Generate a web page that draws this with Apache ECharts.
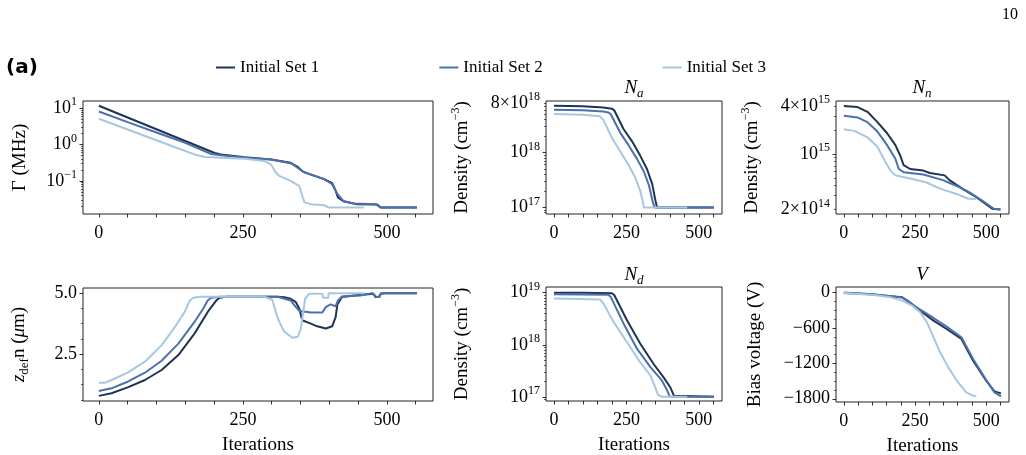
<!DOCTYPE html>
<html>
<head>
<meta charset="utf-8">
<script src="https://cdn.jsdelivr.net/npm/echarts@6/dist/echarts.min.js"></script>
<style>
  html, body { margin: 0; padding: 0; background: #fff; }
  #chart { width: 1026px; height: 455px; }
</style>
</head>
<body>
<div id="chart"></div>
<script>
const SERIF = 'Liberation Serif';

const seriesNames = ['Initial Set 1', 'Initial Set 2', 'Initial Set 3'];
const seriesColors = ['#1f3450', '#4a70ad', '#a7c7e0'];

const iterationTicks = [0, 50, 100, 150, 200, 250, 300, 350, 400, 450, 500, 550];
const iterationLabels = [0, 250, 500];

// Gamma (MHz), [iteration, value]
const gammaSet1 = [[0, 11.7], [50, 5.58], [100, 2.65], [150, 1.26], [201, 0.589], [212, 0.537], [253, 0.452], [299, 0.389], [333, 0.316], [345, 0.245], [353, 0.186], [362, 0.162], [391, 0.112], [405, 0.087], [411, 0.054], [415, 0.035], [425, 0.0275], [448, 0.0229], [483, 0.0226], [489, 0.0186], [552, 0.0186]];
const gammaSet2 = [[0, 8.13], [50, 4.17], [100, 2.16], [150, 1.12], [195, 0.55], [212, 0.51], [253, 0.437], [299, 0.389], [335, 0.30], [355, 0.176], [391, 0.112], [405, 0.081], [414, 0.044], [425, 0.0275], [442, 0.024], [480, 0.0229], [489, 0.0186], [552, 0.0186]];
const gammaSet3 = [[0, 5.13], [50, 2.6], [100, 1.32], [150, 0.668], [166, 0.537], [184, 0.457], [253, 0.407], [287, 0.355], [299, 0.282], [307, 0.17], [313, 0.138], [333, 0.1], [348, 0.0724], [353, 0.039], [357, 0.0257], [368, 0.0229], [391, 0.0214], [399, 0.0186], [460, 0.0186]];

// N_a (cm^-3)
const naSet1 = [[0, 7.16e18], [100, 7.0e18], [170, 6.61e18], [200, 6.31e18], [208, 5.89e18], [240, 2.69e18], [269, 1.62e18], [298, 8.71e17], [321, 5.01e17], [339, 2.69e17], [350, 1.35e17], [356, 1e17], [552, 1e17]];
const naSet2 = [[0, 6.03e18], [100, 5.89e18], [170, 5.62e18], [188, 5.37e18], [196, 5.01e18], [229, 2.29e18], [258, 1.35e18], [287, 7.59e17], [310, 4.57e17], [328, 2.51e17], [340, 1.32e17], [347, 1e17], [552, 1e17]];
const naSet3 = [[0, 5.07e18], [100, 4.9e18], [159, 4.57e18], [170, 3.98e18], [200, 1.86e18], [229, 1.05e18], [258, 5.89e17], [280, 3.55e17], [298, 2.0e17], [306, 1.32e17], [310, 1e17], [460, 1e17]];

// N_n (cm^-3)
const nnSet1 = [[0, 4.0e15], [48, 3.89e15], [83, 3.39e15], [118, 2.51e15], [152, 1.82e15], [181, 1.29e15], [198, 9.55e14], [210, 7.24e14], [233, 6.46e14], [279, 6.17e14], [302, 5.75e14], [354, 5.37e14], [371, 4.68e14], [417, 3.63e14], [464, 2.88e14], [498, 2.34e14], [521, 2.04e14], [550, 2.0e14]];
const nnSet2 = [[0, 3.02e15], [48, 2.88e15], [83, 2.51e15], [118, 1.91e15], [152, 1.29e15], [181, 8.71e14], [193, 6.46e14], [210, 5.89e14], [279, 5.5e14], [348, 4.68e14], [394, 3.98e14], [440, 3.31e14], [487, 2.57e14], [527, 2.04e14], [550, 2.0e14]];
const nnSet3 = [[0, 2.04e15], [37, 1.95e15], [83, 1.62e15], [118, 1.23e15], [146, 7.94e14], [164, 6.17e14], [181, 5.37e14], [233, 4.9e14], [291, 4.37e14], [314, 3.98e14], [348, 3.55e14], [394, 3.16e14], [435, 2.75e14], [464, 2.69e14]];

// z_defn (um)
const zSet1 = [[0, 0.79], [22, 0.90], [50, 1.14], [80, 1.44], [109, 1.85], [138, 2.46], [166, 3.34], [189, 4.23], [204, 4.70], [209, 4.81], [222, 4.85], [310, 4.85], [322, 4.83], [333, 4.77], [342, 4.63], [348, 4.36], [353, 3.89], [368, 3.75], [379, 3.64], [394, 3.55], [405, 3.64], [411, 4.02], [414, 4.54], [422, 4.84], [442, 4.9], [477, 4.97], [480, 4.84], [486, 4.84], [489, 4.97], [500, 5.0], [552, 5.0]];
const zSet2 = [[0, 0.99], [22, 1.10], [50, 1.37], [80, 1.74], [109, 2.23], [138, 2.93], [166, 3.82], [181, 4.36], [189, 4.70], [195, 4.81], [210, 4.85], [310, 4.85], [333, 4.7], [342, 4.43], [348, 4.27], [368, 4.21], [388, 4.21], [394, 4.43], [402, 4.54], [411, 4.46], [415, 4.7], [422, 4.86], [454, 4.9], [474, 5.0], [482, 4.84], [487, 4.84], [490, 5.0], [552, 5.0]];
const zSet3 = [[0, 1.33], [11, 1.33], [22, 1.44], [50, 1.74], [80, 2.19], [109, 2.87], [132, 3.61], [149, 4.23], [158, 4.70], [164, 4.81], [175, 4.85], [287, 4.85], [301, 4.73], [308, 4.16], [314, 3.78], [322, 3.41], [336, 3.17], [345, 3.21], [350, 3.48], [354, 4.09], [358, 4.77], [365, 4.97], [388, 4.97], [389, 4.81], [398, 4.81], [399, 5.0], [460, 5.0]];

// N_d (cm^-3)
const ndSet1 = [[0, 1e19], [100, 1e19], [200, 9.77e18], [208, 9.02e18], [252, 2.95e18], [298, 1.05e18], [344, 4.27e17], [379, 2.34e17], [402, 1.51e17], [414, 1.05e17], [420, 1e17], [552, 1e17]];
const ndSet2 = [[0, 9.33e18], [188, 9.12e18], [196, 8.32e18], [240, 2.57e18], [287, 8.32e17], [333, 3.72e17], [373, 2.04e17], [391, 1.32e17], [400, 1e17], [552, 1e17]];
const ndSet3 = [[0, 7.76e18], [159, 7.41e18], [170, 6.31e18], [206, 2.75e18], [252, 1.12e18], [298, 4.57e17], [333, 2.57e17], [350, 1.51e17], [358, 1.12e17], [373, 1e17], [460, 1e17]];

// V (bias voltage)
const vSet1 = [[0, -5], [106, -34], [164, -62], [205, -79], [222, -136], [251, -238], [280, -351], [315, -475], [361, -617], [413, -787], [454, -1155], [500, -1494], [529, -1675], [552, -1709]];
const vSet2 = [[0, 0], [106, -30], [164, -60], [205, -85], [222, -130], [251, -238], [274, -306], [315, -430], [361, -577], [413, -758], [454, -1126], [500, -1483], [529, -1692], [552, -1760]];
const vSet3 = [[0, -5], [106, -40], [164, -79], [205, -136], [240, -221], [268, -334], [292, -504], [315, -758], [338, -1013], [367, -1268], [401, -1523], [430, -1692], [454, -1749], [465, -1755]];

// tick labels
const gammaLabels = [0.1, 1, 10];
const naLabels = [1e17, 1e18, 8e18];
const nnLabels = [2e14, 1e15, 4e15];
const ndLabels = [1e17, 1e18, 1e19];
const zLabels = [2.5, 5.0];
const zMinorTicks = [0.625, 1.25, 1.875, 3.125, 3.75, 4.375];
const vLabels = [0, -600, -1200, -1800];
const vMinorTicks = [-1650, -1500, -1350, -1050, -900, -750, -450, -300, -150];

const BLACK = '#000';

// log axis helpers
const decades = (lo, hi) => {
  const out = [];
  for (let e = Math.ceil(lo); e <= Math.floor(hi); e++) out.push(Math.pow(10, e));
  return out;
};
const logMinor = (lo, hi) => {
  const out = [];
  for (let e = Math.floor(lo); e <= Math.ceil(hi); e++) {
    for (let m = 2; m <= 9; m++) {
      const v = m * Math.pow(10, e);
      if (Math.log10(v) > lo && Math.log10(v) < hi) out.push(v);
    }
  }
  return out;
};
const sciLabel = (v) => {
  const e = Math.floor(Math.log10(v) + 1e-9);
  const m = Math.round(v / Math.pow(10, e));
  const exp = e < 0 ? '\u2212' + (-e) : String(e);
  return (m === 1 ? '{b|10}' : '{b|' + m + '\u00d710}') + '{s|' + exp + '}';
};

const supRich = {
  b: { fontFamily: SERIF, fontSize: 18, color: BLACK, lineHeight: 24 },
  s: { fontFamily: SERIF, fontSize: 12, color: BLACK, lineHeight: 12, verticalAlign: 'top' },
  i: { fontFamily: SERIF, fontSize: 19, fontStyle: 'italic', color: BLACK, lineHeight: 24 },
  sub: { fontFamily: SERIF, fontSize: 13, color: BLACK, lineHeight: 12, verticalAlign: 'bottom' },
  isub: { fontFamily: SERIF, fontSize: 13, fontStyle: 'italic', color: BLACK, lineHeight: 12, verticalAlign: 'bottom' }
};

const densityName = 'Density (cm{s|\u22123})';

const panels = [
  { left: 83, top: 101, width: 350, height: 113, type: 'log', lo: -1.91, hi: 1.2,
    labels: gammaLabels, name: '\u0393 (MHz)', nameGap: 51, data: [gammaSet1, gammaSet2, gammaSet3], bottom: false },
  { left: 546, top: 101, width: 176, height: 113, type: 'log', lo: 16.88, hi: 18.94,
    labels: naLabels, name: densityName, nameGap: 72, data: [naSet1, naSet2, naSet3], bottom: false },
  { left: 836, top: 101, width: 173, height: 113, type: 'log', lo: 14.244, hi: 15.666,
    labels: nnLabels, name: densityName, nameGap: 72, data: [nnSet1, nnSet2, nnSet3], bottom: false },
  { left: 83, top: 288, width: 350, height: 113, type: 'value', min: 0.58, max: 5.21,
    labels: zLabels, major: zLabels, minor: zMinorTicks, name: '{i|z}{sub|def}n ({i|\u03bc}m)', nameGap: 52,
    fmt: (v) => v.toFixed(1), data: [zSet1, zSet2, zSet3], bottom: true },
  { left: 546, top: 287, width: 176, height: 114, type: 'log', lo: 16.92, hi: 19.11,
    labels: ndLabels, name: densityName, nameGap: 72, data: [ndSet1, ndSet2, ndSet3], bottom: true },
  { left: 836, top: 287, width: 173, height: 115, type: 'value', min: -1855, max: 95,
    labels: vLabels, major: vLabels, minor: vMinorTicks, name: 'Bias voltage (V)', nameGap: 69,
    fmt: (v) => (v < 0 ? '\u2212' + Math.abs(v) : String(v)), data: [vSet1, vSet2, vSet3], bottom: true }
];

const grids = [];
const xAxes = [];
const yAxes = [];
const series = [];

panels.forEach((p, i) => {
  grids.push({
    left: p.left, top: p.top, width: p.width, height: p.height,
    show: true, borderColor: '#222', borderWidth: 1, backgroundColor: 'transparent',
    outerBoundsMode: 'none', containLabel: false
  });
  xAxes.push({
    type: 'value', gridIndex: i, min: -27.5, max: 580, position: 'bottom',
    axisLine: { show: false, onZero: false }, splitLine: { show: false },
    axisTick: { show: true, customValues: iterationTicks, length: 3.5, lineStyle: { color: BLACK, width: 0.8 } },
    axisLabel: { customValues: iterationLabels, margin: 10, color: BLACK, fontFamily: SERIF, fontSize: 18 },
    name: p.bottom ? 'Iterations' : '', nameLocation: 'middle', nameGap: 35,
    nameTextStyle: { color: BLACK, fontFamily: SERIF, fontSize: 19 }
  });
  const isLog = p.type === 'log';
  const min = isLog ? Math.pow(10, p.lo) : p.min;
  const max = isLog ? Math.pow(10, p.hi) : p.max;
  const major = isLog ? decades(p.lo, p.hi) : p.major;
  const minor = isLog ? logMinor(p.lo, p.hi) : p.minor;
  const mainIndex = yAxes.length;
  yAxes.push({
    type: p.type, gridIndex: i, min: min, max: max, position: 'left',
    axisLine: { show: false, onZero: false }, splitLine: { show: false }, minorTick: { show: false },
    axisTick: { show: true, customValues: major, length: 3.5, lineStyle: { color: BLACK, width: 0.8 } },
    axisLabel: {
      customValues: p.labels, margin: 6, color: BLACK, fontFamily: SERIF, fontSize: 18,
      formatter: isLog ? sciLabel : p.fmt, rich: supRich
    },
    name: p.name, nameLocation: 'middle', nameGap: p.nameGap, nameRotate: 90,
    nameTextStyle: { color: BLACK, fontFamily: SERIF, fontSize: 19, lineHeight: 24, rich: supRich }
  });
  yAxes.push({
    type: p.type, gridIndex: i, min: min, max: max, position: 'left', offset: 0,
    axisLine: { show: false, onZero: false }, splitLine: { show: false },
    axisTick: { show: true, customValues: minor, length: 2, lineStyle: { color: BLACK, width: 0.6 } },
    axisLabel: { show: false }
  });
  p.data.forEach((d, k) => {
    series.push({
      name: seriesNames[k], type: 'line', xAxisIndex: i, yAxisIndex: mainIndex,
      data: d, showSymbol: false, symbol: 'none', smooth: false,
      lineStyle: { color: seriesColors[k], width: 2 }, itemStyle: { color: seriesColors[k] },
      emphasis: { disabled: true }
    });
  });
});

const subTitle = (x, y, text) => ({
  type: 'text', x: x, y: y,
  style: { text: text, align: 'center', verticalAlign: 'middle', rich: supRich, font: '19px ' + SERIF, fill: BLACK }
});

const myChart = echarts.init(document.getElementById('chart'), null, { renderer: 'canvas' });
const option = {
  animation: false,
  backgroundColor: '#fff',
  grid: grids,
  xAxis: xAxes,
  yAxis: yAxes,
  series: series,
  legend: {
    data: seriesNames, left: 216, top: 59, padding: 0, icon: 'rect', itemWidth: 19, itemHeight: 2,
    itemGap: 120, selectedMode: false,
    textStyle: { color: BLACK, fontFamily: SERIF, fontSize: 17 }
  },
  graphic: [
    subTitle(634, 88, '{i|N}{isub|a}'),
    subTitle(922, 88, '{i|N}{isub|n}'),
    subTitle(634, 275, '{i|N}{isub|d}'),
    subTitle(922, 275, '{i|V}'),
    { type: 'text', x: 6, y: 68, style: { text: '(a)', verticalAlign: 'middle', font: 'bold 20px "DejaVu Sans", sans-serif', fill: BLACK } },
    { type: 'text', x: 1018, y: 15, style: { text: '10', align: 'right', verticalAlign: 'middle', font: '16px ' + SERIF, fill: BLACK } }
  ]
};
myChart.setOption(option, true);
</script>
</body>
</html>
